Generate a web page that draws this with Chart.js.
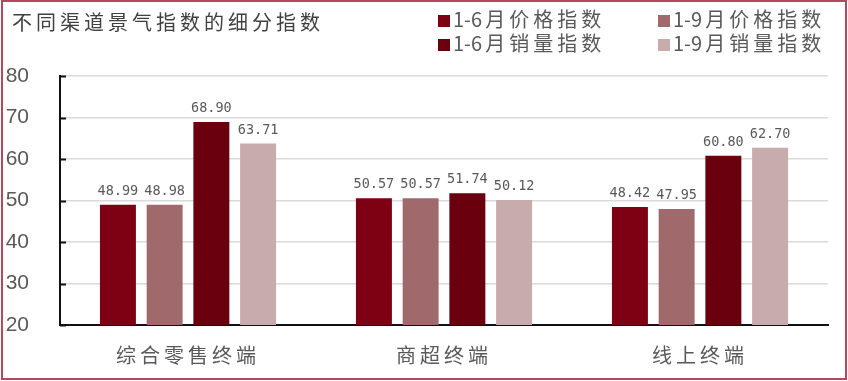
<!DOCTYPE html>
<html>
<head>
<meta charset="utf-8">
<script src="https://cdn.jsdelivr.net/npm/chart.js@4.4.1/dist/chart.umd.min.js"></script>
<style>
html,body{margin:0;padding:0;background:#fff;}
#wrap{position:relative;width:848px;height:381px;overflow:hidden;}
#c{position:absolute;left:0;top:0;}
#frame{position:absolute;left:1px;top:0px;width:846px;height:380px;box-sizing:border-box;border:2px solid #b4485c;pointer-events:none;}
.cjk{font-family:"Noto Sans CJK SC","Noto Sans",sans-serif;}
#title{position:absolute;left:12px;top:9px;font-size:20px;line-height:26px;letter-spacing:4px;color:#404040;white-space:nowrap;}
.lg{position:absolute;font-size:20px;line-height:24px;color:#595959;white-space:nowrap;}
.lg .sq{display:inline-block;width:12px;height:12px;margin-right:3px;vertical-align:0px;}
.lg .cn{letter-spacing:4px;}
.lg .dg{margin-right:3px;}
</style>
</head>
<body>
<div id="wrap">
<canvas id="c" width="848" height="381"></canvas>
<div id="title" class="cjk">不同渠道景气指数的细分指数</div>
<div id="legend"></div>
<div id="frame"></div>
</div>
<script>
const categories = ["综合零售终端", "商超终端", "线上终端"];
const seriesNames = ["1-6月价格指数", "1-9月价格指数", "1-6月销量指数", "1-9月销量指数"];
const price16 = [48.99, 50.57, 48.42];
const price19 = [48.98, 50.57, 47.95];
const volume16 = [68.90, 51.74, 60.80];
const volume19 = [63.71, 50.12, 62.70];
const seriesColors = ["#7e0013", "#a0696b", "#6a000e", "#c7abad"];
const yTicks = [20, 30, 40, 50, 60, 70, 80];

const seriesValues = [price16, price19, volume16, volume19];

// HTML legend (2 x 2)
const legendPos = [[438, 7], [658, 7], [438, 31], [658, 31]];
const lgEl = document.getElementById('legend');
seriesNames.forEach((name, si) => {
  const d = document.createElement('div');
  d.className = 'lg cjk';
  d.style.left = legendPos[si][0] + 'px';
  d.style.top = legendPos[si][1] + 'px';
  const m = name.match(/^([0-9\-]+)(.*)$/);
  d.innerHTML = '<span class="sq" style="background:' + seriesColors[si] + '"></span>' +
    '<span class="dg">' + m[1] + '</span><span class="cn">' + m[2] + '</span>';
  lgEl.appendChild(d);
});

const dataLabelPlugin = {
  id: 'dataLabels',
  afterDatasetsDraw(chart) {
    const ctx = chart.ctx;
    ctx.save();
    ctx.letterSpacing = '0px';
    ctx.font = '13.5px "DejaVu Sans Mono", monospace';
    ctx.fillStyle = '#595959';
    ctx.textAlign = 'center';
    ctx.textBaseline = 'alphabetic';
    chart.data.datasets.forEach((ds, di) => {
      const meta = chart.getDatasetMeta(di);
      meta.data.forEach((el, i) => {
        ctx.fillText(ds.data[i].toFixed(2), el.x, el.y - 10);
      });
    });
    ctx.restore();
  }
};

const innerTickPlugin = {
  id: 'innerTicks',
  afterDraw(chart) {
    const ctx = chart.ctx;
    const ys = chart.scales.y;
    ctx.save();
    ctx.letterSpacing = '0px';
    ctx.strokeStyle = '#111';
    ctx.lineWidth = 2;
    ys.ticks.forEach(t => {
      const y = Math.round(ys.getPixelForValue(t.value)) + 0.5;
      ctx.beginPath();
      ctx.moveTo(ys.right, y);
      ctx.lineTo(ys.right + 6, y);
      ctx.stroke();
    });
    ctx.restore();
  }
};

// y labels (z 0) are drawn before datasets with normal spacing; x labels (ticks z 1) after, with wide CJK spacing
const spacingPlugin = {
  id: 'spacing',
  beforeDraw(chart) { chart.ctx.letterSpacing = '0px'; },
  afterDatasetsDraw(chart) { chart.ctx.letterSpacing = '4px'; }
};

new Chart(document.getElementById('c'), {
  type: 'bar',
  data: {
    labels: categories,
    datasets: seriesNames.map((n, i) => ({
      label: n,
      data: seriesValues[i],
      backgroundColor: seriesColors[i],
      borderWidth: 0,
      barPercentage: 0.77,
      categoryPercentage: 0.73
    }))
  },
  options: {
    responsive: false,
    animation: false,
    devicePixelRatio: 1,
    layout: { padding: { left: 5, right: 20, top: 76, bottom: 14 } },
    plugins: {
      legend: { display: false },
      title: { display: false },
      tooltip: { enabled: false }
    },
    scales: {
      x: {
        grid: { display: false, drawTicks: false },
        border: { display: true, color: '#111', width: 2 },
        ticks: {
          z: 1,
          padding: 18,
          color: '#595959',
          font: { family: '"Noto Sans CJK SC", "Noto Sans", sans-serif', size: 20 }
        },
        afterFit(s) { s.height = 42; }
      },
      y: {
        min: 20,
        max: 80,
        afterBuildTicks(s) { s.ticks = yTicks.map(v => ({ value: v })); },
        grid: { color: '#dadada', lineWidth: 1.5, drawTicks: false },
        border: { display: true, color: '#111', width: 2 },
        ticks: {
          padding: 31,
          color: '#595959',
          font: { family: '"Liberation Sans", Arial, sans-serif', size: 21 }
        },
        afterFit(s) { s.width = 55; }
      }
    }
  },
  plugins: [dataLabelPlugin, innerTickPlugin, spacingPlugin]
});
</script>
</body>
</html>
